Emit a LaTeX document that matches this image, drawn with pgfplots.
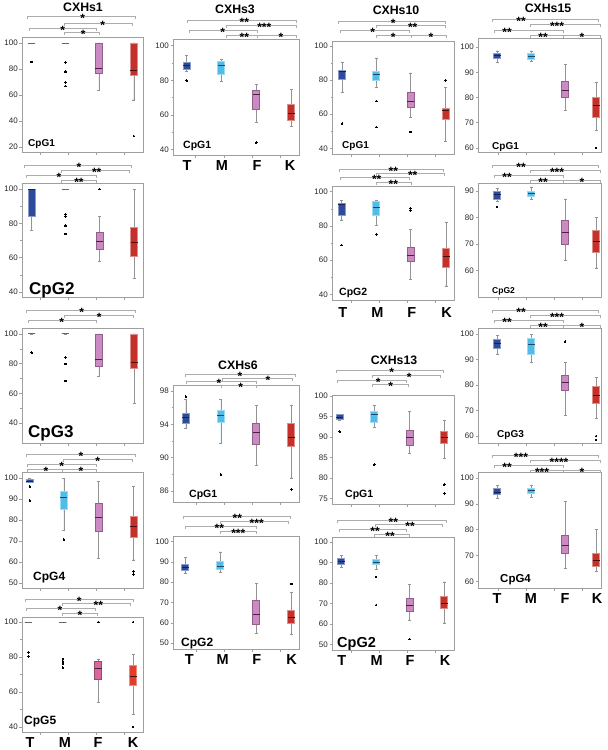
\documentclass[border=0pt]{standalone}
\usepackage{fontspec}
\setmainfont{Liberation Sans}
\usepackage{pgfplots}
\pgfplotsset{compat=1.18}
\usepgfplotslibrary{statistics}
\newcommand\fs[1]{\fontsize{#1}{#1}\selectfont}
\definecolor{cT}{HTML}{2E4B9B}
\definecolor{cTd}{HTML}{15244F}
\definecolor{cM}{HTML}{52BCE8}
\definecolor{cMd}{HTML}{1B4A66}
\definecolor{cF}{HTML}{CC8AC3}
\definecolor{cFd}{HTML}{4A1E45}
\definecolor{cK}{HTML}{C4302A}
\definecolor{cKd}{HTML}{4A0E0B}
\definecolor{cF2}{HTML}{D8679E}
\definecolor{cK2}{HTML}{E23C2C}
\pgfplotsset{
 panel/.style={scale only axis, clip=false,
  axis line style={draw=gray!75, line width=0.6pt},
  ytick pos=left, xtick pos=bottom, tick align=outside,
  major tick length=2.5pt, minor tick length=1.5pt,
  tick style={draw=gray!75, line width=0.5pt},
  xticklabels={},
  yticklabel style={font=\fs{8}, text=black!85, inner sep=1.5pt},
  /pgf/number format/assume math mode=true,
  boxplot/draw direction=y,
  boxplot/box extend=7, boxplot/whisker extend=3,
  boxplot/every whisker/.style={draw=gray!85, line width=0.5pt},
 },
 cats/.style 2 args={extra x ticks={#1}, extra x tick labels={T,M,F,K},
  extra x tick style={major tick length=0pt, tick label style={font=\bfseries\fs{14.5}, yshift=#2}}},
 outl/.style={mark=*, mark size=0.8pt, mark options={draw=black, fill=black, line width=0pt}},
 T/.style={outl, fill=cT, draw=cT!55!white, line width=0.7pt, boxplot/every median/.style={draw=cTd, line width=0.9pt}},
 M/.style={outl, fill=cM, draw=cM!55!white, line width=0.7pt, boxplot/every median/.style={draw=cMd, line width=0.9pt}},
 F/.style={outl, fill=cF, draw=cF!70!black, line width=0.7pt, boxplot/every median/.style={draw=cFd, line width=0.9pt}},
 K/.style={outl, fill=cK, draw=cK!55!white, line width=0.7pt, boxplot/every median/.style={draw=cKd, line width=0.9pt}},
 F2/.style={outl, fill=cF2, draw=cF2!70!black, line width=0.7pt, boxplot/every median/.style={draw=cFd, line width=0.9pt}},
 K2/.style={outl, fill=cK2, draw=cK2!60!white, line width=0.7pt, boxplot/every median/.style={draw=cKd, line width=0.9pt}},
 D/.style={outl, fill=none, draw=black!60, line width=0.9pt, boxplot/every median/.style={draw=black!60, line width=0.9pt}},
}
\newcommand\bx[8]{\addplot[#1, boxplot prepared={draw position=#2, lower whisker=#3, lower quartile=#4, median=#5, upper quartile=#6, upper whisker=#7}] coordinates {#8};}
\tikzset{brk/.style={draw=gray!65, line width=0.5pt}, stn/.style={font=\bfseries\fs{12}, anchor=base, inner sep=0pt}}
\newcommand\br[5]{\draw[brk] (#1,{#3+2.5}) -- (#1,#3) -- (#2,#3) -- (#2,{#3+2.5}); \node[stn] at (#5,{#3+6}) {#4};}
\newcommand\ttl[3]{\node[font=\bfseries\fs{12.3}, anchor=base] at (#1,#2) {#3};}
\newcommand\lab[4]{\node[font=\bfseries\fs{#4}, anchor=base west, inner sep=0pt] at (#1,#2) {#3};}
\begin{document}
\begin{tikzpicture}
\path[use as bounding box] (0pt,0pt) rectangle (608pt,-750pt);
% ================= Column 1: CXHs1 =================
\begin{axis}[panel, at={(22pt,-152pt)}, anchor=south west, width=121pt, height=115pt,
 xmin=22, xmax=143, ymin=16.2, ymax=104.6, ytick={20,40,60,80,100}, xtick={40,68,96,124}]
\bx{D}{31.7}{100}{100}{100}{100}{100}{(0,85.4)}
\bx{D}{65.5}{100}{100}{100}{100}{100}{(0,84.9) (0,77.9) (0,69.5) (0,66.9)}
\bx{F}{98.8}{63.8}{76.7}{80.5}{100}{100}{}
\bx{K}{133.8}{56.2}{75.4}{78.7}{100}{100}{(0,28.5)}
\end{axis}
\begin{axis}[panel, at={(22pt,-297pt)}, anchor=south west, width=121pt, height=114pt,
 xmin=22, xmax=143, ymin=37.1, ymax=103.5, ytick={40,60,80,100}, minor y tick num=1, xtick={40,68,96,124}]
\bx{T}{31.7}{75.7}{84.3}{100}{100}{100}{}
\bx{D}{65.5}{100}{100}{100}{100}{100}{(0,85.3) (0,84) (0,78.6) (0,73.8)}
\bx{F}{99.7}{57.7}{65.1}{69.7}{74.8}{83.9}{(0,100)}
\bx{K}{134}{48}{60.8}{69.1}{77.9}{100}{}
\end{axis}
\begin{axis}[panel, at={(22pt,-443pt)}, anchor=south west, width=121pt, height=115pt,
 xmin=22, xmax=143, ymin=26.5, ymax=104, ytick={40,60,80,100}, minor y tick num=1, xtick={40,68,96,124}]
\bx{D}{31.7}{100}{100}{100}{100}{100}{(0,87.4)}
\bx{D}{65.5}{100}{100}{100}{100}{100}{(0,84) (0,79.8) (0,68.3)}
\bx{F}{99}{71.2}{78}{82.5}{100}{100}{}
\bx{K}{134}{53.3}{77.1}{80.9}{100}{100}{}
\end{axis}
\begin{axis}[panel, at={(22pt,-588pt)}, anchor=south west, width=121pt, height=116pt,
 xmin=22, xmax=143, ymin=47.6, ymax=102.9, ytick={50,60,70,80,90,100}, xtick={40,68,96,124}]
\bx{T}{30}{97.9}{97.9}{98.6}{99.4}{100}{(0,96) (0,89.2)}
\bx{M}{64}{75.2}{85.1}{90.8}{93.8}{100}{(0,70.8)}
\bx{F}{98.5}{61.8}{74.8}{81.4}{88}{98.4}{}
\bx{K}{133.5}{61}{71.6}{77.1}{81.9}{96}{(0,55.4) (0,54.1)}
\end{axis}
\begin{axis}[panel, at={(22pt,-732pt)}, anchor=south west, width=121pt, height=115pt,
 xmin=22, xmax=143, ymin=37.1, ymax=102.9, ytick={40,60,80,100}, minor y tick num=1, xtick={40,68,96,124},
 cats={30,65,98,133}{-1.5pt}]
\bx{D}{28.5}{100}{100}{100}{100}{100}{(0,82.5) (0,80.2)}
\bx{D}{63}{100}{100}{100}{100}{100}{(0,78.9) (0,77.6) (0,76.2) (0,74.1)}
\bx{F2}{98.3}{54}{67.4}{73.2}{77.4}{78.9}{(0,100)}
\bx{K2}{133}{47.1}{63.6}{69.1}{75.5}{81.6}{(0,100) (0,40)}
\end{axis}
% ================= Column 2 =================
\begin{axis}[panel, at={(173pt,-155pt)}, anchor=south west, width=126pt, height=116pt,
 xmin=173, xmax=299, ymin=36.7, ymax=103.9, ytick={40,60,80,100}, minor y tick num=1, xtick={195.7,224,252.3,280.7},
 cats={187,222,257,290}{-2pt}]
\bx{T}{186.7}{85.1}{86.1}{88.4}{90.3}{94.2}{(0,79.7)}
\bx{M}{221}{79.3}{83.2}{88.4}{90.9}{92.3}{}
\bx{F}{256.3}{55.5}{63.2}{71.5}{73.9}{77.7}{(0,43.8)}
\bx{K}{291.3}{53.5}{57}{60.9}{66.1}{74.8}{}
\end{axis}
\begin{axis}[panel, at={(173pt,-502pt)}, anchor=south west, width=126pt, height=117pt,
 xmin=173, xmax=299, ymin=84.7, ymax=98.7, ytick={86,90,94,98}, minor y tick num=1, xtick={196.7,224,252.3,280.7}]
\bx{T}{185.8}{93.5}{94.1}{94.8}{95.3}{97.0}{(0,97.3)}
\bx{M}{220.8}{91.7}{94.2}{95.1}{95.7}{97}{(0,88)}
\bx{F}{256.3}{89.1}{91.6}{93}{94.1}{96.3}{}
\bx{K}{291.3}{87.6}{91.4}{92.4}{94.1}{96.3}{(0,86.2)}
\end{axis}
\begin{axis}[panel, at={(173pt,-649pt)}, anchor=south west, width=126pt, height=113pt,
 xmin=173, xmax=299, ymin=47.1, ymax=102.7, ytick={50,60,70,80,90,100}, xtick={196.7,224,252.3,280.7},
 cats={189.3,222.7,256.7,291.7}{-2pt}]
\bx{T}{185}{84.6}{85.9}{87.4}{88.7}{92.2}{}
\bx{M}{220.3}{84.8}{86.4}{87.6}{90.3}{94.9}{}
\bx{F}{256.3}{54.9}{59.3}{64.2}{70.9}{79.4}{}
\bx{K}{291.3}{54.4}{59.8}{62.5}{66}{74.8}{(0,79.1)}
\end{axis}
% ================= Column 3 =================
\begin{axis}[panel, at={(332pt,-154pt)}, anchor=south west, width=122pt, height=113pt,
 xmin=332, xmax=454, ymin=36.7, ymax=102.9, ytick={40,60,80,100}, minor y tick num=1, xtick={351.7,379.3,407.3,435}]
\bx{T}{342}{72.7}{80.3}{84.8}{85.8}{90.3}{(0,54.6)}
\bx{M}{376.3}{75.7}{79.9}{83.5}{85.4}{93}{(0,67.7) (0,52.5)}
\bx{F}{410.5}{58.1}{64.3}{67.3}{72.7}{84.2}{(0,49.7)}
\bx{K}{445.5}{43.9}{57}{62.4}{63.4}{75.7}{(0,79.9)}
\end{axis}
\begin{axis}[panel, at={(332pt,-300pt)}, anchor=south west, width=122pt, height=114pt,
 xmin=332, xmax=454, ymin=36.7, ymax=103.3, ytick={40,60,80,100}, minor y tick num=1, xtick={351.7,379.3,407.3,435},
 cats={342.7,377.3,411.7,446.7}{-4pt}]
\bx{T}{341.7}{83.5}{86}{92.8}{93.2}{94.7}{(0,68.8)}
\bx{M}{376.3}{80.5}{86.4}{90.9}{94.2}{94.7}{(0,75.1)}
\bx{F}{410.5}{48.9}{59.1}{62.6}{67.5}{78}{(0,90.3) (0,88.9)}
\bx{K}{446}{44.9}{55.8}{62.4}{66.9}{81.9}{}
\end{axis}
\begin{axis}[panel, at={(332pt,-504pt)}, anchor=south west, width=122pt, height=109pt,
 xmin=332, xmax=454, ymin=73.6, ymax=100.3, ytick={75,80,85,90,95,100}, xtick={351.7,379.3,407.3,435}]
\bx{T}{339.7}{94}{94.4}{94.9}{95.5}{95.5}{(0,91.3)}
\bx{M}{374.2}{92.3}{93.5}{95.5}{96.2}{97.8}{(0,83.3)}
\bx{F}{409.5}{86}{88}{90}{91.7}{96.3}{}
\bx{K}{444.2}{84.8}{88.4}{89.9}{91.4}{94.1}{(0,78.4) (0,76.2)}
\end{axis}
\begin{axis}[panel, at={(332pt,-650pt)}, anchor=south west, width=122pt, height=113pt,
 xmin=332, xmax=454, ymin=47.2, ymax=102.4, ytick={50,60,70,80,90,100}, xtick={351.7,379.3,407.3,435},
 cats={341.7,376.7,410,445}{-2pt}]
\bx{T}{341.3}{87.5}{89}{90.7}{92.2}{93.5}{}
\bx{M}{376}{86.5}{89}{90.2}{91.6}{93.5}{(0,82.9) (0,69.1)}
\bx{F}{409.7}{61.8}{65.9}{68.8}{72.4}{79.4}{(0,52.5)}
\bx{K}{444.2}{60.5}{67.5}{70}{73.2}{80.5}{}
\end{axis}
% ================= Column 4: CXHs15 =================
\begin{axis}[panel, at={(478pt,-152pt)}, anchor=south west, width=123pt, height=114pt,
 xmin=478, xmax=601, ymin=58.4, ymax=103.6, ytick={60,70,80,90,100}, xtick={498,526,554,582}]
\bx{T}{497}{94}{95.5}{96.5}{97.5}{98.5}{}
\bx{M}{531}{94.5}{95.3}{96.3}{97.5}{98.5}{}
\bx{F}{565}{75}{80}{83}{86.5}{93}{}
\bx{K}{596}{67}{72}{77}{80}{86}{(0,60)}
\end{axis}
\begin{axis}[panel, at={(478pt,-297pt)}, anchor=south west, width=123pt, height=114pt,
 xmin=478, xmax=601, ymin=50, ymax=93, ytick={60,70,80,90}, xtick={498,526,554,582}]
\bx{T}{497}{86}{87}{88.5}{90}{91}{(0,84)}
\bx{M}{531}{87}{88}{89}{90}{91.5}{}
\bx{F}{565}{64}{70}{74.5}{79}{87}{}
\bx{K}{596}{61}{67}{71}{75}{80}{}
\end{axis}
\begin{axis}[panel, at={(478pt,-443pt)}, anchor=south west, width=123pt, height=115pt,
 xmin=478, xmax=601, ymin=57.3, ymax=102.4, ytick={60,70,80,90,100}, xtick={498,526,554,582}]
\bx{T}{497}{92}{94.5}{96.5}{98}{99.5}{}
\bx{M}{531}{89}{92}{96}{98.5}{100}{}
\bx{F}{565}{68}{78}{81}{84}{89}{(0,97)}
\bx{K}{596}{67}{73}{76}{79.5}{83}{(0,60) (0,58.5)}
\end{axis}
\begin{axis}[panel, at={(478pt,-588pt)}, anchor=south west, width=123pt, height=116pt,
 xmin=478, xmax=601, ymin=57.5, ymax=102.3, ytick={60,70,80,90,100}, xtick={498,526,554,582},
 cats={497,531,565,597}{-2pt}]
\bx{T}{497}{92}{93.5}{94.5}{96}{97}{}
\bx{M}{531}{92.5}{94}{95}{96}{97}{}
\bx{F}{565}{65}{71}{74}{78}{91}{}
\bx{K}{596}{64}{66}{68}{71}{80}{}
\end{axis}
\begin{scope}[x=1pt,y=-1pt]
% ================= Titles and labels =================
\ttl{83}{11}{CXHs1}
\ttl{235}{13.3}{CXHs3}
\ttl{396}{14.3}{CXHs10}
\ttl{548}{12}{CXHs15}
\ttl{238}{369}{CXHs6}
\ttl{394}{364}{CXHs13}
\lab{28}{146}{CpG1}{10}
\lab{29}{294}{CpG2}{17}
\lab{28}{437}{CpG3}{17}
\lab{33}{580}{CpG4}{12}
\lab{24}{724}{CpG5}{12}
\lab{183}{148.5}{CpG1}{10.5}
\lab{189}{497}{CpG1}{10.5}
\lab{181}{646.5}{CpG2}{12}
\lab{342}{148.5}{CpG1}{10}
\lab{339}{295.5}{CpG2}{10.5}
\lab{345}{497}{CpG1}{10.5}
\lab{337}{647.5}{CpG2}{14.5}
\lab{492}{149}{CpG1}{10}
\lab{492}{293}{CpG2}{8.5}
\lab{497}{437}{CpG3}{10}
\lab{500}{582}{CpG4}{11.5}
% ================= Significance brackets =================
% col1 CpG1
\br{27}{135}{16.7}{*}{82.7}
\br{64}{132.7}{23.3}{*}{102.7}
\br{29.3}{96.7}{28.3}{*}{62.7}
\br{64}{99.3}{32.7}{*}{83.3}
% col1 CpG2
\br{24}{131.7}{165}{*}{79}
\br{61}{129.3}{170}{**}{96.7}
\br{26}{96}{175}{*}{59}
\br{61}{96.7}{180}{**}{79}
% col1 CpG3
\br{26.7}{135}{310}{*}{81.7}
\br{64}{133.3}{315}{*}{99.3}
\br{28.3}{96}{320}{*}{61.7}
% col1 CpG4
\br{26.7}{135}{454.3}{*}{81}
\br{63.3}{132.7}{459.3}{*}{97.7}
\br{27.7}{96.7}{464}{*}{61.7}
\br{27.3}{62.7}{469}{*}{46}
\br{62.7}{96.7}{469}{*}{81}
% col1 CpG5
\br{25}{133.3}{599}{*}{79.3}
\br{62.7}{130.7}{603.3}{**}{98.3}
\br{26.7}{95}{608.3}{*}{60}
\br{62.7}{97.3}{613.3}{*}{80}
% col2 CXHs3
\br{187.7}{296.7}{20.7}{**}{244.3}
\br{226}{296.7}{25}{***}{264.3}
\br{189.3}{257.3}{30}{*}{222.7}
\br{226}{257.3}{35}{**}{244.3}
\br{257.3}{296.7}{35}{*}{281}
% col2 CXHs6 CpG1
\br{185}{295}{374}{*}{240}
\br{222}{292}{378}{*}{268}
\br{186}{256}{381.5}{*}{219}
\br{221}{256}{385.5}{*}{240.7}
% col2 CXHs6 CpG2
\br{183.3}{290.7}{516.7}{**}{237.3}
\br{220.7}{288.3}{521.7}{***}{256.7}
\br{185}{256}{526}{**}{219.3}
\br{220.7}{256}{531.7}{***}{238.3}
% col3 CXHs10 CpG1
\br{338.3}{445.7}{21}{*}{393.3}
\br{376}{445}{25}{**}{412.7}
\br{340.7}{409.3}{30}{*}{372.7}
\br{376}{411.7}{35}{*}{393.3}
\br{411.7}{446.7}{35}{*}{431}
% col3 CXHs10 CpG2
\br{339.3}{443.3}{169.3}{**}{393.3}
\br{376}{444}{173.3}{**}{412.7}
\br{340.7}{409.3}{177.7}{**}{376.7}
\br{376.7}{411.7}{182.3}{**}{393.3}
% col3 CXHs13 CpG1
\br{336}{443.3}{370.7}{*}{391.7}
\br{372.7}{440.7}{375}{*}{409.3}
\br{337.3}{406}{380}{*}{378.3}
\br{372.7}{408.3}{384}{*}{390.7}
% col3 CXHs13 CpG2
\br{337.3}{446}{520.7}{**}{393.3}
\br{375}{442.7}{524}{**}{410}
\br{339.3}{406.7}{529}{**}{375}
\br{374}{409.3}{534.3}{**}{390}
% col4 CpG1
\br{492}{598}{19}{**}{521}
\br{530}{600}{24}{***}{557}
\br{494}{563}{30}{**}{507}
\br{530}{563}{35}{**}{543}
\br{563}{600}{35}{*}{582}
% col4 CpG2
\br{492}{598}{165}{**}{521}
\br{530}{600}{170}{***}{557}
\br{494}{563}{175}{**}{507}
\br{530}{563}{180}{**}{543}
\br{563}{600}{180}{*}{582}
% col4 CpG3
\br{492}{598}{310}{**}{521}
\br{530}{600}{315}{***}{557}
\br{494}{563}{320}{**}{507}
\br{530}{563}{325}{**}{543}
\br{563}{600}{325}{*}{582}
% col4 CpG4
\br{492}{598}{455}{***}{521}
\br{530}{600}{460}{****}{559}
\br{494}{563}{465}{**}{507}
\br{530}{563}{470}{***}{542}
\br{563}{600}{470}{*}{582}
\end{scope}
\end{tikzpicture}
\end{document}
